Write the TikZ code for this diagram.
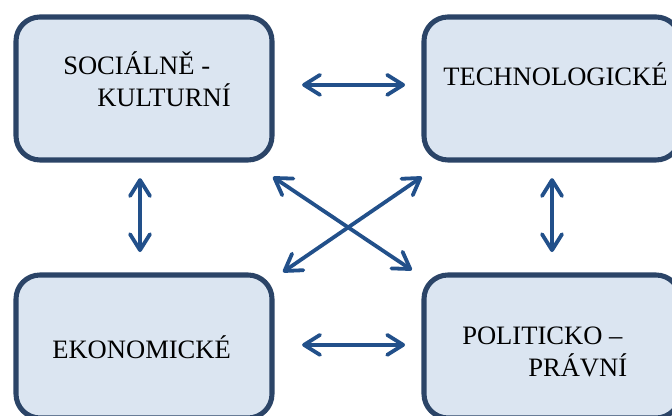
\documentclass[tikz,border=0pt]{standalone}
\usepackage{fontspec}
\setmainfont{Liberation Serif}
\usetikzlibrary{arrows.meta}

\definecolor{boxfill}{HTML}{DBE5F1}
\definecolor{boxline}{HTML}{2B4467}
\definecolor{arrowblue}{HTML}{22508A}

\tikzset{
	box/.style = {draw = boxline, fill = boxfill, line width = 3.6pt, rounded corners = 0.6cm,
		minimum width = 6.4cm, minimum height = 3.575cm, inner sep = 0pt},
	lbl/.style = {anchor = base west, inner sep = 0pt, font = \fontsize{18.9}{22}\selectfont},
	arr/.style = {arrowblue, line width = 2.7pt,
		{Straight Barb[length = 4mm, width = 5mm, line cap = round, line join = round]}-{Straight Barb[length = 4mm, width = 5mm, line cap = round, line join = round]}}
}

\begin{document}
\begin{tikzpicture}
		\clip (0, 0) rectangle (16.8, 10.4);
		%\draw[gray, dotted] (0, 0) grid (17, 11);
		\node[box] (soc) at (3.6, 8.1875) {};
		\node[box] (tech) at (13.8, 8.1875) {};
		\node[box] (eko) at (3.6, 1.7375) {};
		\node[box] (pol) at (13.8, 1.7375) {};
		\node[lbl] (soc1) at (1.575, 8.525) {SOCIÁLNĚ -};
		\node[lbl] (soc2) at (2.425, 7.725) {KULTURNÍ};
		\node[lbl] (techt) at (11.075, 8.25) {TECHNOLOGICKÉ};
		\node[lbl] (ekot) at (1.3, 1.425) {EKONOMICKÉ};
		\node[lbl] (pol1) at (11.55, 1.775) {POLITICKO –};
		\node[lbl] (pol2) at (13.2, 0.975) {PRÁVNÍ};
		% horizontal and vertical arrows
		\draw[arr, shorten <= 0.69cm, shorten >= 0.41cm] ([yshift = 0.09cm]soc.east) -- ([yshift = 0.09cm]tech.west);
		\draw[arr, shorten <= 0.69cm, shorten >= 0.41cm] ([yshift = 0.04cm]eko.east) -- ([yshift = 0.04cm]pol.west);
		\draw[arr, shorten <= 0.39cm, shorten >= 0.51cm] ([xshift = -0.1cm]soc.south) -- ([xshift = -0.1cm]eko.north);
		\draw[arr, shorten <= 0.39cm, shorten >= 0.51cm] (tech.south) -- (pol.north);
		% crossing arrows
		\draw[arr] ([shift = {(-0.04, -0.36)}]soc.south east) -- ([shift = {(-0.24, 0.06)}]pol.north west);
		\draw[arr] ([shift = {(0.01, -0.36)}]tech.south west) -- ([shift = {(0.21, 0.01)}]eko.north east);
	\end{tikzpicture}
\end{document}
